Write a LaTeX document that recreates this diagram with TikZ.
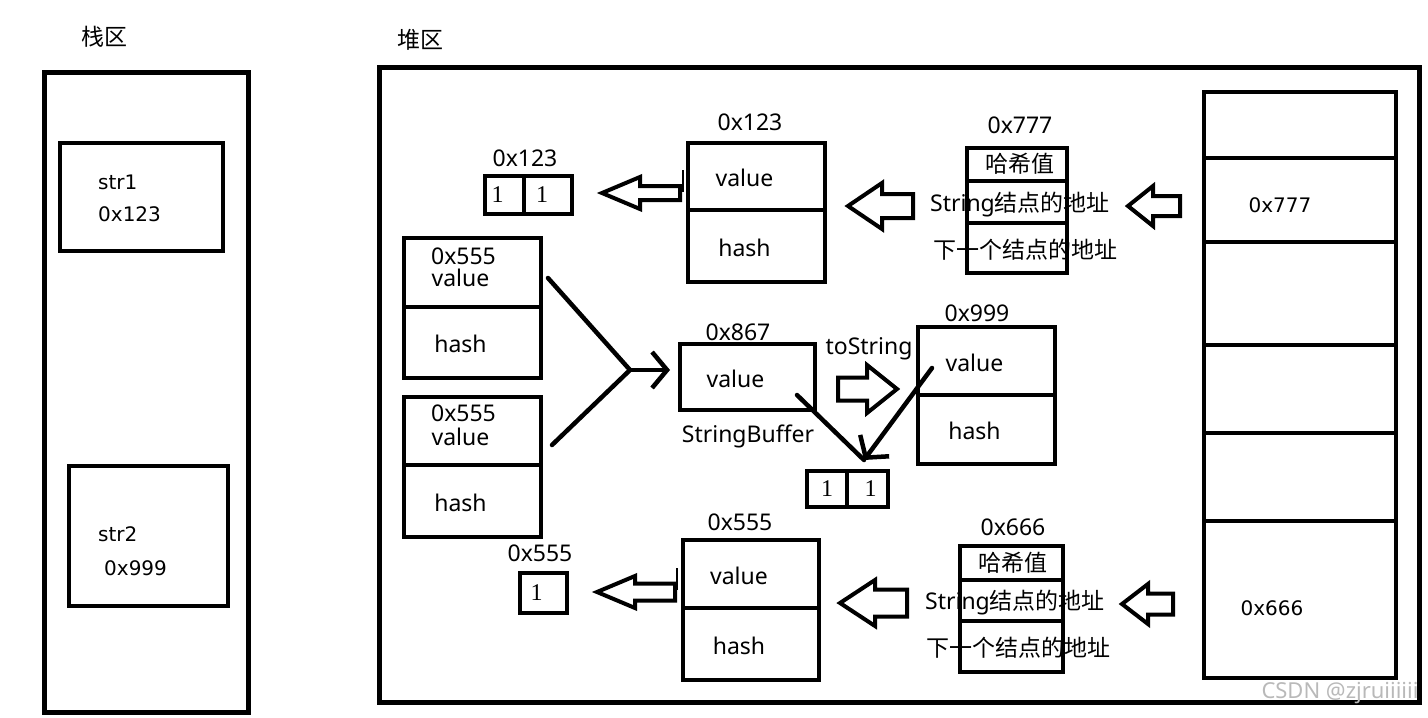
\documentclass[tikz,border=0pt]{standalone}
\usepackage{fontspec}
\setmainfont{Noto Sans}
\newfontfamily\cjk{Noto Sans CJK SC}
\newfontfamily\verd{DejaVu Sans}
\newfontfamily\digit{Liberation Serif}
\usetikzlibrary{arrows.meta, positioning}

\begin{document}
\begin{tikzpicture}[
    x=1pt, y=-1pt,
    font=\fontsize{23}{27}\selectfont,
    cell/.style={draw, line width=4pt, inner sep=0pt, outer sep=0pt},
    frame/.style={draw, line width=5pt, inner sep=0pt, outer sep=0pt, anchor=north west},
    txt/.style={label={[xshift=-12pt,yshift=-1.5pt]center:#1}},
    one/.style={label={[xshift=#1]center:\digit\fontsize{24}{28}\selectfont 1}},
    lab/.style={inner sep=0pt},
    stk/.style={inner sep=0pt, font=\verd\fontsize{20}{24}\selectfont},
    fatarrow/.style={draw, line width=4pt, line join=miter},
    wire/.style={draw, line width=4.5pt, line cap=round},
    line/.style={draw, line width=4.5pt, line cap=round, -{Straight Barb[length=15pt,width=36pt]}}
]
\useasboundingbox (0,0) rectangle (1428,718);

% Stack area
\node[lab] (stacktitle) at (104,37) {\cjk 栈区};
\node[frame, minimum width=204pt, minimum height=640pt] (stack) at (44,72) {};
\node[cell, anchor=north west, minimum width=163pt, minimum height=108pt] (str1) at (60,143) {};
\node[stk, anchor=west] (str1name) at (98,182) {str1};
\node[stk, anchor=west] (str1addr) at (98,214) {0x123};
\node[cell, anchor=north west, minimum width=159pt, minimum height=140pt] (str2) at (69,466) {};
\node[stk, anchor=west] (str2name) at (98,534) {str2};
\node[stk, anchor=west] (str2addr) at (104,568) {0x999};

% Heap area
\node[lab] (heaptitle) at (420,40) {\cjk 堆区};
\node[frame, minimum width=1040pt, minimum height=635pt] (heap) at (379,67) {};

% Table slots
\foreach \n/\top/\h in {1/92/66, 2/158/84, 3/242/103, 4/345/88, 5/433/88, 6/521/157}
    \node[cell, anchor=north west, minimum width=192pt, minimum height=\h*1pt] (slot\n) at (1204,\top) {};
\node[stk] (addr777) at (1280,205) {0x777};
\node[stk] (addr666) at (1272,608) {0x666};

% Entry 0x777
\node[cell, anchor=north west, minimum width=100pt, minimum height=33pt] (e777a) at (967,148) {};
\node[cell, minimum width=100pt, minimum height=42pt, below=0pt of e777a] (e777b) {};
\node[cell, minimum width=100pt, minimum height=50pt, below=0pt of e777b] (e777c) {};
\node[lab] (l777) at (1020,125) {0x777};
\node[lab] (h777) at (1020,164) {\cjk 哈希值};
\node[lab] (s777) at (1020,205) {String\cjk 结点的地址};
\node[lab] (n777) at (1025,250) {\cjk 下一个结点的地址};

% String 0x123
\node[cell, anchor=north west, minimum width=137pt, minimum height=67pt, txt=value] (v123) at (688,143) {};
\node[cell, minimum width=137pt, minimum height=72pt, below=0pt of v123, txt=hash] (h123) {};
\node[lab] (l123) at (750,122) {0x123};
\node[cell, anchor=north west, minimum width=39pt, minimum height=38pt, one=-7pt] (a123a) at (485,176) {};
\node[cell, minimum width=48pt, minimum height=38pt, right=0pt of a123a, one=-6pt] (a123b) {};
\node[lab] (la123) at (525,158) {0x123};

% Two strings 0x555
\node[cell, anchor=north west, minimum width=137pt, minimum height=69pt,
      label={[xshift=-12pt,yshift=-5pt]center:value}, label={[xshift=-9pt,yshift=16pt]center:0x555}] (a555v) at (404,238) {};
\node[cell, minimum width=137pt, minimum height=71pt, below=0pt of a555v, txt=hash] (a555h) {};
\node[cell, anchor=north west, minimum width=137pt, minimum height=68pt,
      label={[xshift=-12pt,yshift=-5.5pt]center:value}, label={[xshift=-9pt,yshift=18pt]center:0x555}] (b555v) at (404,397) {};
\node[cell, minimum width=137pt, minimum height=72pt, below=0pt of b555v, txt=hash] (b555h) {};

% StringBuffer 0x867
\node[cell, anchor=north west, minimum width=135pt, minimum height=66pt, txt=value] (sb) at (680,344) {};
\node[lab] (lsb) at (738,332) {0x867};
\node[lab] (sbname) at (748,436) {StringBuffer};
\node[lab] (tostr) at (869,349) {toString};

% String 0x999
\node[cell, anchor=north west, minimum width=137pt, minimum height=68pt, txt=value] (v999) at (918,327) {};
\node[cell, minimum width=137pt, minimum height=69pt, below=0pt of v999, txt=hash] (h999) {};
\node[lab] (l999) at (977,313) {0x999};
\node[cell, anchor=north west, minimum width=40pt, minimum height=36pt, one=0pt] (a999a) at (807,471) {};
\node[cell, minimum width=41pt, minimum height=36pt, right=0pt of a999a, one=3pt] (a999b) {};

% String 0x555 (bottom)
\node[cell, anchor=north west, minimum width=47pt, minimum height=40pt, one=-7pt] (a555) at (520,573) {};
\node[lab] (la555) at (540,553) {0x555};
\node[cell, anchor=north west, minimum width=136pt, minimum height=68pt, txt=value] (v555) at (683,540) {};
\node[cell, minimum width=136pt, minimum height=72pt, below=0pt of v555, txt=hash] (h555) {};
\node[lab] (l555) at (740,522) {0x555};

% Entry 0x666
\node[cell, anchor=north west, minimum width=103pt, minimum height=34pt] (e666a) at (960,546) {};
\node[cell, minimum width=103pt, minimum height=41pt, below=0pt of e666a] (e666b) {};
\node[cell, minimum width=103pt, minimum height=51pt, below=0pt of e666b] (e666c) {};
\node[lab] (l666) at (1013,527) {0x666};
\node[lab] (h666) at (1013,563) {\cjk 哈希值};
\node[lab] (s666) at (1015,603) {String\cjk 结点的地址};
\node[lab] (n666) at (1018,648) {\cjk 下一个结点的地址};

% Hollow arrows
\foreach \tx/\ty/\hx/\ex/\hh/\sh in {1128/206/1153/1180/20/10, 848/206/882/913/23/12,
        602/193/640/680/16/7, 897/389/867/838/24/11.5, 1122/604/1148/1173/20/10.5,
        840/603/875/907/23/13.5, 597/592/635/675/16/8.5}
    \draw[fatarrow] (\tx,\ty) -- (\hx,\ty-\hh) -- (\hx,\ty-\sh) -- (\ex,\ty-\sh)
        -- (\ex,\ty+\sh) -- (\hx,\ty+\sh) -- (\hx,\ty+\hh) -- cycle;
\draw[line width=1.5pt] (683,170) -- (683,192);
\draw[line width=1.5pt] (677,568) -- (677,590);

% Merge into StringBuffer
\coordinate (merge) at (630,370);
\coordinate (sbin) at ([xshift=-10pt]sb.west);
\draw[wire] ([shift={(7,5.5)}]a555v.east) -- (merge) -- ([shift={(11,14)}]b555v.east);
\draw[line] (merge) -- (merge -| sbin);

% Shared array
\coordinate (share) at (864,460);
\draw[wire] ([shift={(49.5,18)}]sb.center) -- (share);
\draw[line] ([shift={(-54.5,7)}]v999.center) -- (share);

\node[text=gray!55, inner sep=0pt, font=\fontsize{22}{26}\selectfont] (mark) at (1340,693) {CSDN @zjruiiiiii};
\end{tikzpicture}
\end{document}
